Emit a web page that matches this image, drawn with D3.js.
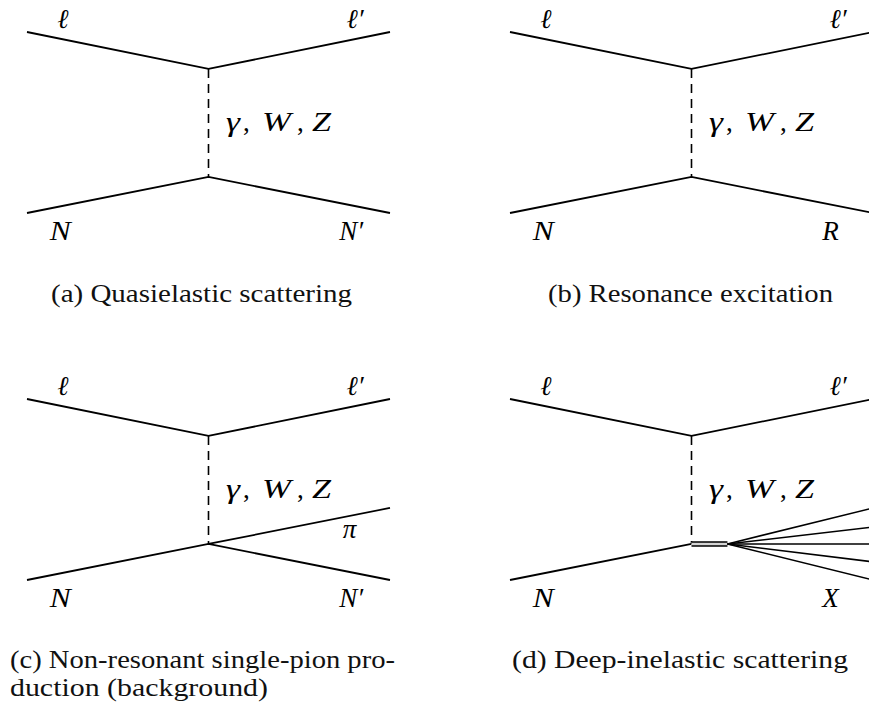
<!DOCTYPE html>
<html>
<head>
<meta charset="utf-8">
<script src="https://cdn.jsdelivr.net/npm/d3@7"></script>
<style>
  html, body { margin: 0; padding: 0; background: #fff; }
  svg { display: block; }
</style>
</head>
<body>
<svg id="fig" width="869" height="713"></svg>
<script>
// Sub-figure identifiers and their captions (one entry per caption line)
const panelIds = ["a", "b", "c", "d"];
const captions = [
  ["(a) Quasielastic scattering"],
  ["(b) Resonance excitation"],
  ["(c) Non-resonant single-pion pro-", "duction (background)"],
  ["(d) Deep-inelastic scattering"]
];

// Particle labels
const incomingLepton = "ℓ";
const outgoingLepton = "ℓ′";
const incomingHadron = "N";
const outgoingHadron = ["N′", "R", "N′", "X"];
const exchangeParts = ["γ", ",", "W", ",", "Z"];
const pionLabel = "π";

// Diagram geometry in unit coordinates (x: 0 = left leg end, 1 = right leg end;
// y: 0 = lepton leg ends, 1 = hadron leg ends)
const vertexX = 0.5;
const leptonVertexY = 0.204;
const hadronVertexY = 0.801;
const pionEnd = [1, 0.602];
const fanStartX = 0.599;
const fanEndY = [0.602, 0.707, 0.801, 0.90, 1.0];

// Which diagram carries which final state
const finalState = ["nucleon", "nucleon", "pion", "fan"];

const SERIF = '"Liberation Serif"';
const svg = d3.select("#fig");

function mathText(g, x, y, t, italic = true) {
  return g.append("text")
    .attr("x", x).attr("y", y)
    .style("font-family", SERIF).style("font-style", italic ? "italic" : "normal")
    .style("font-size", "27px").style("fill", "#000")
    .text(t);
}
function leg(g, d, w) {
  return g.append("path").attr("d", d)
    .style("stroke", "#000").style("stroke-width", w || 1.8).style("fill", "none");
}

// panel placement
const colOffset = [0, 483];
const rowOffset = [0, 367];

// horizontal placement and glyph widths of the pieces of "γ, W, Z"
const partOffset = [3, 20, 39, 74, 89];
const partWidth = [14, 0, 29, 0, 19];

panelIds.forEach((id, i) => {
  const ox = colOffset[i % 2], oy = rowOffset[Math.floor(i / 2)];
  const x = d3.scaleLinear().domain([0, 1]).range([ox + 27, ox + 390]);
  const y = d3.scaleLinear().domain([0, 1]).range([oy + 32, oy + 213]);
  const line = d3.line().x(d => x(d[0])).y(d => y(d[1]));

  const g = svg.append("g").attr("class", "panel-" + id);

  // lepton line
  leg(g, line([[0, 0], [vertexX, leptonVertexY], [1, 0]]));

  // exchanged boson (dashed)
  leg(g, line([[vertexX, leptonVertexY], [vertexX, hadronVertexY]]), 1.6)
    .style("stroke-dasharray", "9 6");

  if (finalState[i] === "fan") {
    leg(g, line([[0, 1], [vertexX, hadronVertexY]]));
    // hadronic system: grey-filled double line, then the outgoing fan
    const yc = y(hadronVertexY);
    g.append("rect")
      .attr("x", x(vertexX)).attr("y", yc - 2)
      .attr("width", x(fanStartX) - x(vertexX)).attr("height", 4)
      .style("fill", "#d4d4d4");
    [-2, 2].forEach(dy => {
      leg(g, `M${x(vertexX)},${yc + dy}H${x(fanStartX)}`, 1.6);
    });
    fanEndY.forEach(fy => {
      leg(g, line([[fanStartX, hadronVertexY], [1, fy]]), 1.6);
    });
  } else {
    leg(g, line([[0, 1], [vertexX, hadronVertexY], [1, 1]]));
    if (finalState[i] === "pion") {
      leg(g, line([[vertexX, hadronVertexY], pionEnd]));
      mathText(g, x(0.87), y(0.768), pionLabel);
    }
  }

  // particle labels
  mathText(g, x(0.083), y(-0.022), incomingLepton);
  mathText(g, x(0.88), y(-0.022), outgoingLepton);
  mathText(g, x(0.063), y(1.149), incomingHadron)
    .attr("textLength", 21).attr("lengthAdjust", "spacingAndGlyphs");
  mathText(g, x(0.86), y(1.149), outgoingHadron[i]);

  // exchanged boson label
  exchangeParts.forEach((t, k) => {
    const isComma = t === ",";
    const el = mathText(g, x(0.54) + partOffset[k], y(0.547), t, !isComma);
    if (partWidth[k] > 0) {
      el.attr("textLength", partWidth[k]).attr("lengthAdjust", "spacingAndGlyphs");
    }
  });
});

// captions: start x, baseline, rendered width per line
const captionLayout = [
  [[51, 302, 301]],
  [[548, 302, 285]],
  [[10, 668, 385], [10, 696, 258]],
  [[512, 668, 336]]
];
captions.forEach((lines, i) => {
  lines.forEach((t, k) => {
    const [cx, cy, w] = captionLayout[i][k];
    svg.append("text")
      .attr("x", cx).attr("y", cy)
      .attr("textLength", w).attr("lengthAdjust", "spacingAndGlyphs")
      .style("font-family", SERIF).style("font-size", "25px").style("fill", "#111")
      .text(t);
  });
});
</script>
</body>
</html>
